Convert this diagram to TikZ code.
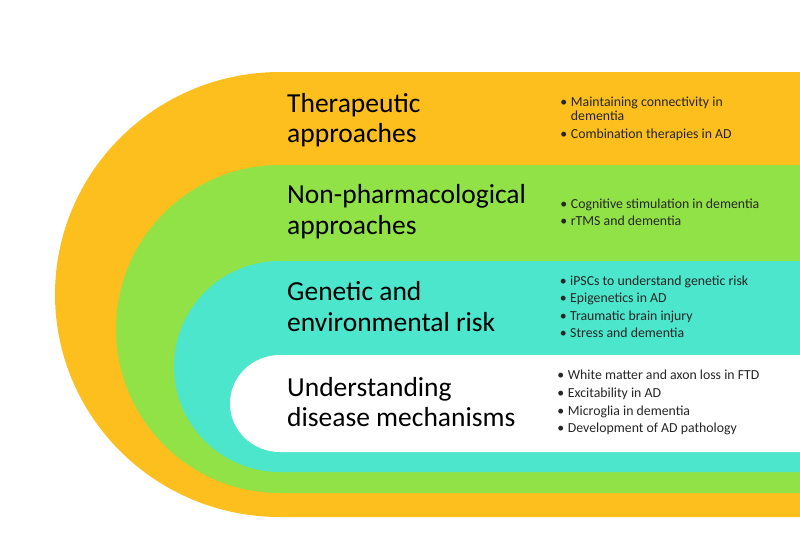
\documentclass[tikz,border=0pt]{standalone}
\usepackage{fontspec}
\setmainfont{Carlito}
\definecolor{cOrange}{RGB}{252,191,30}
\definecolor{cGreen}{RGB}{145,226,70}
\definecolor{cTeal}{RGB}{76,230,204}
\tikzset{
  head/.style={anchor=base west, inner sep=0pt, font=\fontsize{27.5}{30}\selectfont, text=black},
  item/.style={anchor=base west, inner sep=0pt, font=\fontsize{13.8}{17}\selectfont, text=black!85},
  band/.style={draw=none}
}
\newcommand{\bl}{\makebox[14pt][c]{\textbullet}}
\begin{document}
\begin{tikzpicture}[x=1pt,y=-1pt]
\useasboundingbox (0,0) rectangle (800,541);
% bands
\fill[cOrange] (800,72) -- (280,72) arc[start angle=90,end angle=270,x radius=225pt,y radius=222.5pt] -- (800,517) -- cycle;
\fill[cGreen] (800,165) -- (280,165) arc[start angle=90,end angle=270,x radius=164pt,y radius=164pt] -- (800,493) -- cycle;
\fill[cTeal] (800,261) -- (280,261) arc[start angle=90,end angle=270,x radius=106pt,y radius=105.5pt] -- (800,472) -- cycle;
\fill[white] (800,355) -- (280,355) arc[start angle=90,end angle=270,x radius=50pt,y radius=48.5pt] -- (800,452) -- cycle;
% headings
\node[head] (h1a) at (287,112) {Therapeutic};
\node[head] (h1b) at (287,142) {approaches};
\node[head] (h2a) at (287,203) {Non-pharmacological};
\node[head] (h2b) at (287,234) {approaches};
\node[head] (h3a) at (287,300) {Genetic and};
\node[head] (h3b) at (287,331) {environmental risk};
\node[head] (h4a) at (287,396) {Understanding};
\node[head] (h4b) at (287,426) {disease mechanisms};
% items
\node[item] (i1a) at (556.7,106) {\bl Maintaining connectivity in};
\node[item] (i1b) at (570.7,120) {dementia};
\node[item] (i1c) at (556.7,138) {\bl Combination therapies in AD};
\node[item] (i2a) at (556.7,208) {\bl Cognitive stimulation in dementia};
\node[item] (i2b) at (556.7,225) {\bl rTMS and dementia};
\node[item] (i3a) at (556,285) {\bl iPSCs to understand genetic risk};
\node[item] (i3b) at (556,302) {\bl Epigenetics in AD};
\node[item] (i3c) at (556,320) {\bl Traumatic brain injury};
\node[item] (i3d) at (556,337) {\bl Stress and dementia};
\node[item] (i4a) at (553.7,379) {\bl White matter and axon loss in FTD};
\node[item] (i4b) at (553.7,397) {\bl Excitability in AD};
\node[item] (i4c) at (553.7,415) {\bl Microglia in dementia};
\node[item] (i4d) at (553.7,432) {\bl Development of AD pathology};
\end{tikzpicture}
\end{document}
